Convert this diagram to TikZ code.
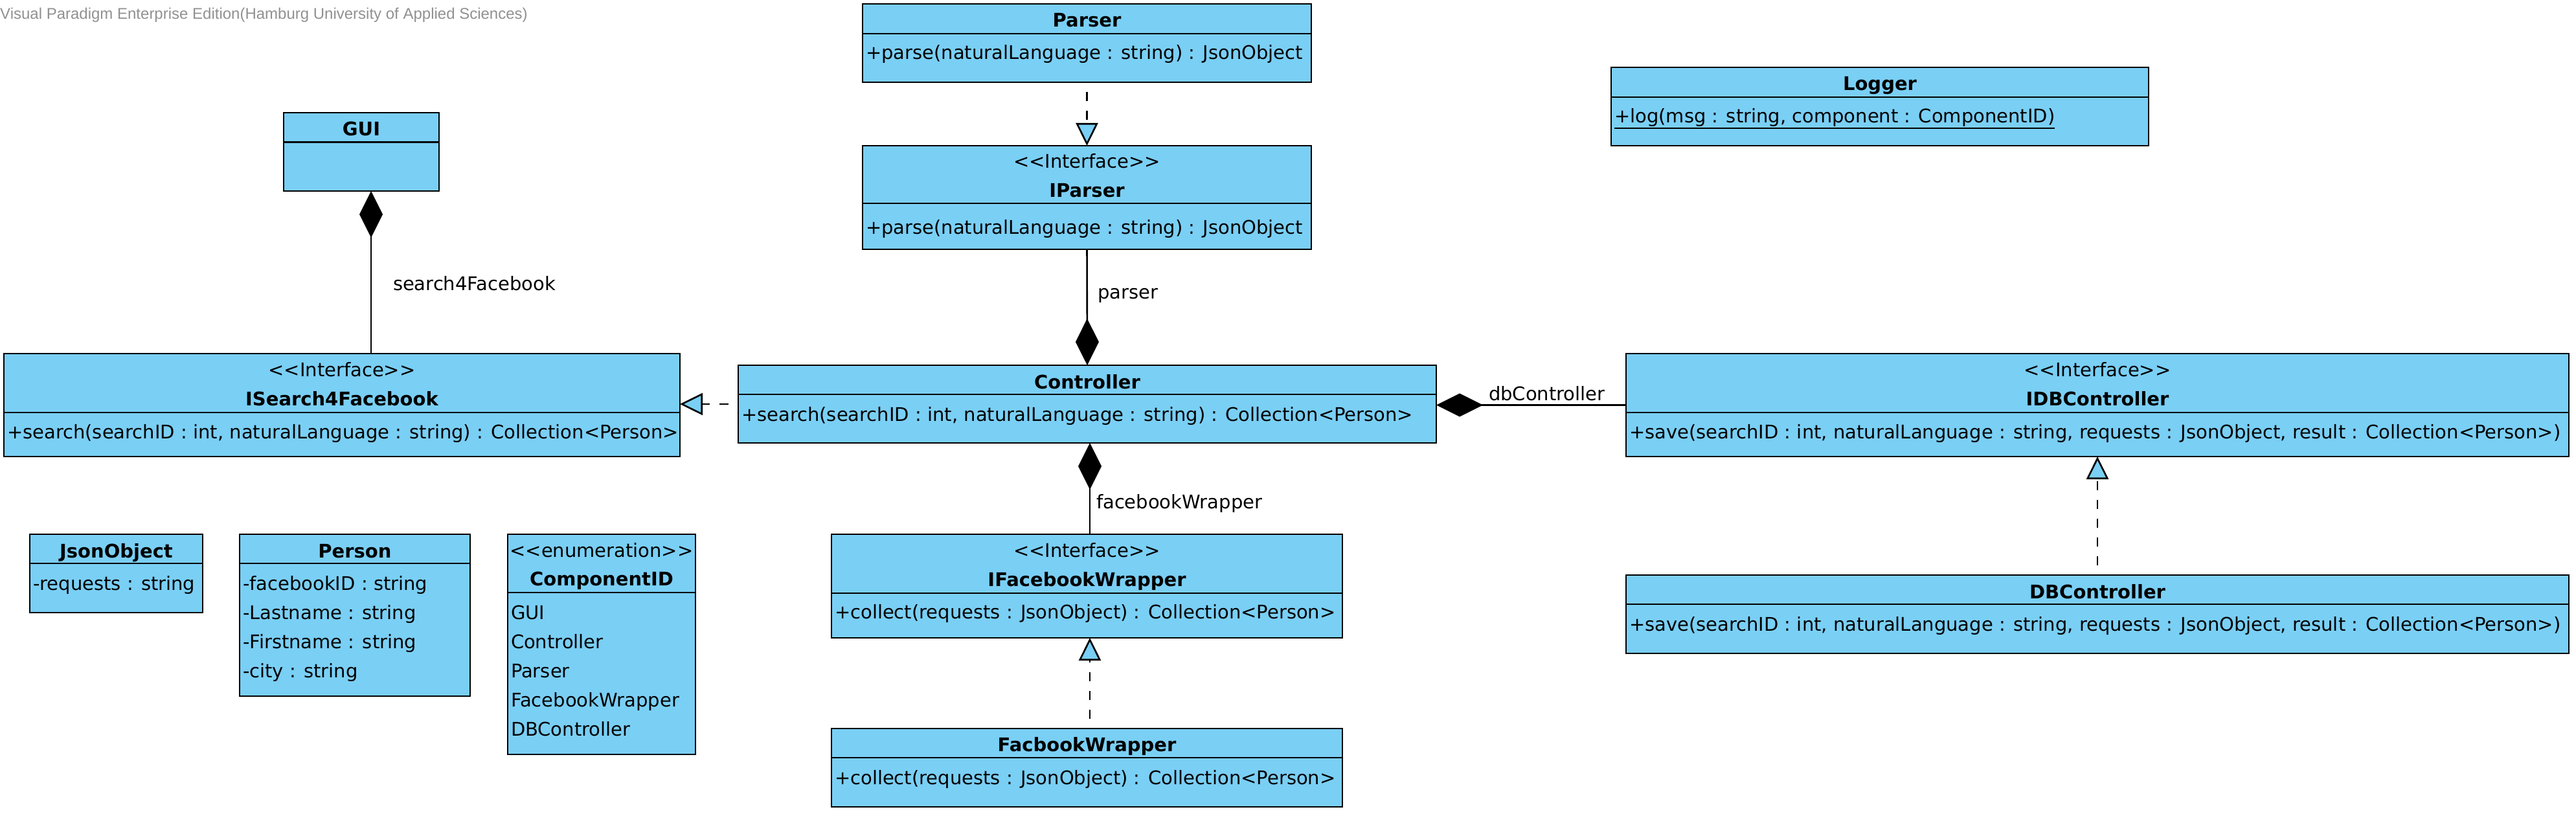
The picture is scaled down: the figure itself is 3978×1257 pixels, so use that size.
\documentclass[tikz,border=0pt]{standalone}
\usepackage{fontspec}
\newfontfamily\dv{DejaVu Sans}
\newfontfamily\wmfont{Liberation Sans}
\usetikzlibrary{arrows.meta,fit}
\definecolor{umlblue}{RGB}{122,207,245}
\definecolor{wmgray}{RGB}{145,145,145}
\tikzset{
  classrect/.style={draw=black, fill=umlblue, line width=2.8pt, inner sep=0pt, outer sep=0pt},
  divline/.style={draw=black, line width=2.8pt},
  txt/.style={inner sep=0pt, outer sep=0pt, text=black, font=\dv\fontsize{29pt}{35pt}\selectfont},
  nm/.style={txt, font=\dv\fontsize{29pt}{35pt}\selectfont\bfseries, anchor=base},
  st/.style={txt, anchor=base},
  op/.style={txt, anchor=base west},
  lbl/.style={txt, anchor=base west},
  comp/.style={draw=black, line width=2.6pt, line join=miter, -{Diamond[length=72pt,width=36pt,fill=black]}},
  realize/.style={draw=black, line width=2.6pt, dash pattern=on 14pt off 15pt, dash phase=14pt,
    -{Triangle[length=35pt,width=34pt,fill=umlblue]}},
}
\newcommand\umlclass[6]{%
  \coordinate (#1-nw) at (#2,#3);
  \coordinate (#1-se) at (#4,#5);
  \coordinate (#1-d) at (0,#6);
  \node[classrect, fit=(#1-nw)(#1-se)] (#1) {};
  \draw[divline] (#1.west |- #1-d) -- (#1.east |- #1-d);
}
\begin{document}
\begin{tikzpicture}[x=1pt,y=-1pt]
\useasboundingbox (0,0) rectangle (3978,1257);
\fill[white] (0,0) rectangle (3978,1257);

% watermark
\node[anchor=base west, inner sep=0pt, text=wmgray, font=\wmfont\fontsize{24pt}{28pt}\selectfont] (wm) at (0,30)
  {Visual Paradigm Enterprise Edition(Hamburg University of Applied Sciences)};

% classes
\umlclass{gui}{438}{174}{678}{295}{219.5}
\node[nm] (gui-n) at (558,210) {GUI};

\umlclass{isearch}{6}{546}{1050}{705}{637}
\node[st] (isearch-s) at (528,581) {<<Interface>>};
\node[nm] (isearch-n) at (528,626) {ISearch4Facebook};
\node[op] (isearch-o) at (11,677) {+search(searchID : int, naturalLanguage : string) : Collection<Person>};

\umlclass{parser}{1332}{6}{2025}{127}{52}
\node[nm] (parser-n) at (1678.5,42) {Parser};
\node[op] (parser-o) at (1337,92) {+parse(naturalLanguage : string) : JsonObject};

\umlclass{iparser}{1332}{225}{2025}{385}{314}
\node[st] (iparser-s) at (1678.5,260) {<<Interface>>};
\node[nm] (iparser-n) at (1678.5,305) {IParser};
\node[op] (iparser-o) at (1337,361) {+parse(naturalLanguage : string) : JsonObject};

\umlclass{controller}{1140}{564}{2218}{684}{609}
\node[nm] (controller-n) at (1679,600) {Controller};
\node[op] (controller-o) at (1145,650) {+search(searchID : int, naturalLanguage : string) : Collection<Person>};

\umlclass{logger}{2488}{104}{3318}{225}{150}
\node[nm] (logger-n) at (2903,140) {Logger};
\node[op] (logger-o) at (2493,190) {+log(msg : string, component : ComponentID)};
\draw[line width=2.6pt] ([yshift=-8pt]logger-o.base west) -- ([yshift=-8pt]logger-o.base east);

\umlclass{idb}{2511}{546}{3967}{705}{637}
\node[st] (idb-s) at (3239,581) {<<Interface>>};
\node[nm] (idb-n) at (3239,626) {IDBController};
\node[op] (idb-o) at (2516,677) {+save(searchID : int, naturalLanguage : string, requests : JsonObject, result : Collection<Person>)};

\umlclass{dbc}{2511}{888}{3967}{1009}{933}
\node[nm] (dbc-n) at (3239,924) {DBController};
\node[op] (dbc-o) at (2516,974) {+save(searchID : int, naturalLanguage : string, requests : JsonObject, result : Collection<Person>)};

\umlclass{json}{46}{825}{313}{946}{870}
\node[nm] (json-n) at (179.5,861) {JsonObject};
\node[op] (json-o) at (51,911) {-requests : string};

\umlclass{person}{370}{825}{726}{1075}{870}
\node[nm] (person-n) at (548,861) {Person};
\node[op] (person-a) at (375,911) {-facebookID : string};
\node[op] (person-b) at (375,956) {-Lastname : string};
\node[op] (person-c) at (375,1001) {-Firstname : string};
\node[op] (person-d) at (375,1046) {-city : string};

\umlclass{compid}{784}{825}{1074}{1165}{915}
\node[st] (compid-s) at (929,860) {<<enumeration>>};
\node[nm] (compid-n) at (929,904) {ComponentID};
\node[op] (compid-a) at (789,956) {GUI};
\node[op] (compid-b) at (789,1001) {Controller};
\node[op] (compid-c) at (789,1046) {Parser};
\node[op] (compid-d) at (789,1091) {FacebookWrapper};
\node[op] (compid-e) at (789,1136) {DBController};

\umlclass{ifb}{1284}{825}{2073}{985}{916}
\node[st] (ifb-s) at (1678.5,860) {<<Interface>>};
\node[nm] (ifb-n) at (1678.5,905) {IFacebookWrapper};
\node[op] (ifb-o) at (1289,955) {+collect(requests : JsonObject) : Collection<Person>};

\umlclass{fbw}{1284}{1125}{2073}{1246}{1170}
\node[nm] (fbw-n) at (1678.5,1160) {FacbookWrapper};
\node[op] (fbw-o) at (1289,1211) {+collect(requests : JsonObject) : Collection<Person>};

% columns for connectors
\coordinate (colA) at (573,0);
\coordinate (colB) at (1683,0);

% connectors
\draw[comp] (isearch.north -| colA) -- (gui.south -| colA);
\node[lbl] (l1) at (607,448) {search4Facebook};

\draw[realize] (parser.south) -- (iparser.north);

\draw[comp] (iparser.south) -- (controller.north);
\node[lbl] (l2) at (1695,461) {parser};

\draw[realize] (controller.west) -- (controller.west -| isearch.east);

\draw[comp] (idb.west) -- (idb.west -| controller.east);
\node[lbl] (l3) at (2299,618) {dbController};

\draw[comp] (ifb.north -| colB) -- (controller.south -| colB);
\node[lbl] (l4) at (1693,785) {facebookWrapper};

\draw[realize] (fbw.north -| colB) -- (ifb.south -| colB);

\draw[realize] (dbc.north) -- (idb.south);
\end{tikzpicture}
\end{document}
